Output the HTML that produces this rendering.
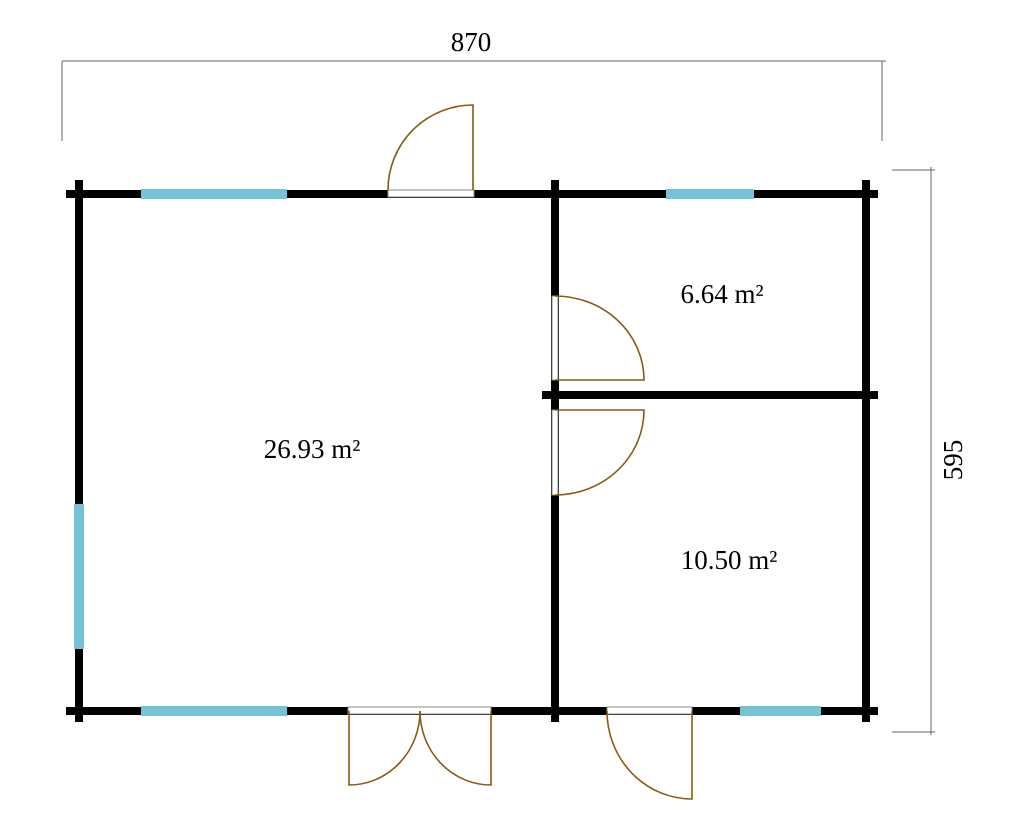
<!DOCTYPE html>
<html><head><meta charset="utf-8"><style>html,body{margin:0;padding:0;background:#fff}svg{display:block}</style></head>
<body>
<svg width="1024" height="826" viewBox="0 0 1024 826" xmlns="http://www.w3.org/2000/svg">
<g stroke="#666" stroke-width="1" fill="none">
<line x1="62" y1="61" x2="886" y2="61"/>
<line x1="62" y1="61" x2="62" y2="141"/>
<line x1="882" y1="61" x2="882" y2="141"/>
<line x1="931" y1="167" x2="931" y2="735"/>
<line x1="892" y1="170" x2="935" y2="170"/>
<line x1="892" y1="732" x2="935" y2="732"/>
</g>
<g font-family="Liberation Serif, serif" font-size="27" fill="#000">
<text x="471" y="51" text-anchor="middle">870</text>
<text x="0" y="0" text-anchor="middle" transform="translate(962,460) rotate(-90)">595</text>
<text x="312" y="458" text-anchor="middle">26.93 m²</text>
<text x="722" y="303" text-anchor="middle">6.64 m²</text>
<text x="729" y="569" text-anchor="middle">10.50 m²</text>
</g>
<g stroke="#000" stroke-width="8" fill="none">
<line x1="66" y1="194" x2="878" y2="194"/>
<line x1="66" y1="711" x2="878" y2="711"/>
<line x1="79" y1="180" x2="79" y2="722"/>
<line x1="555" y1="180" x2="555" y2="722"/>
<line x1="866" y1="180" x2="866" y2="722"/>
<line x1="542" y1="395" x2="878" y2="395"/>
</g>
<g stroke="#76c3d8" stroke-width="10" fill="none">
<line x1="141" y1="194" x2="287" y2="194"/>
<line x1="666" y1="194" x2="754" y2="194"/>
<line x1="141" y1="711" x2="287" y2="711"/>
<line x1="740" y1="711" x2="821" y2="711"/>
<line x1="79" y1="504" x2="79" y2="649"/>
</g>
<g fill="#fff" stroke="#888" stroke-width="1">
<rect x="388" y="190" width="86" height="7"/>
<rect x="348" y="707" width="143" height="7"/>
<rect x="607" y="707" width="85" height="7"/>
<rect x="552" y="296" width="6" height="84"/>
<rect x="552" y="410" width="6" height="85"/>
</g>
<g stroke="#8a5a12" stroke-width="1.6" fill="none">
<path d="M473 190 L473 105 A85 85 0 0 0 388 190"/>
<path d="M555 380 L644 380 A89 84 0 0 0 555 296"/>
<path d="M555 410 L644 410 A89 85 0 0 1 555 495"/>
<path d="M349 711 L349 785 A71 74 0 0 0 420 711"/>
<path d="M491 711 L491 785 A71 74 0 0 1 420 711"/>
<path d="M692 711 L692 799 A85 88 0 0 1 607 711"/>
</g>
</svg>
</body></html>
